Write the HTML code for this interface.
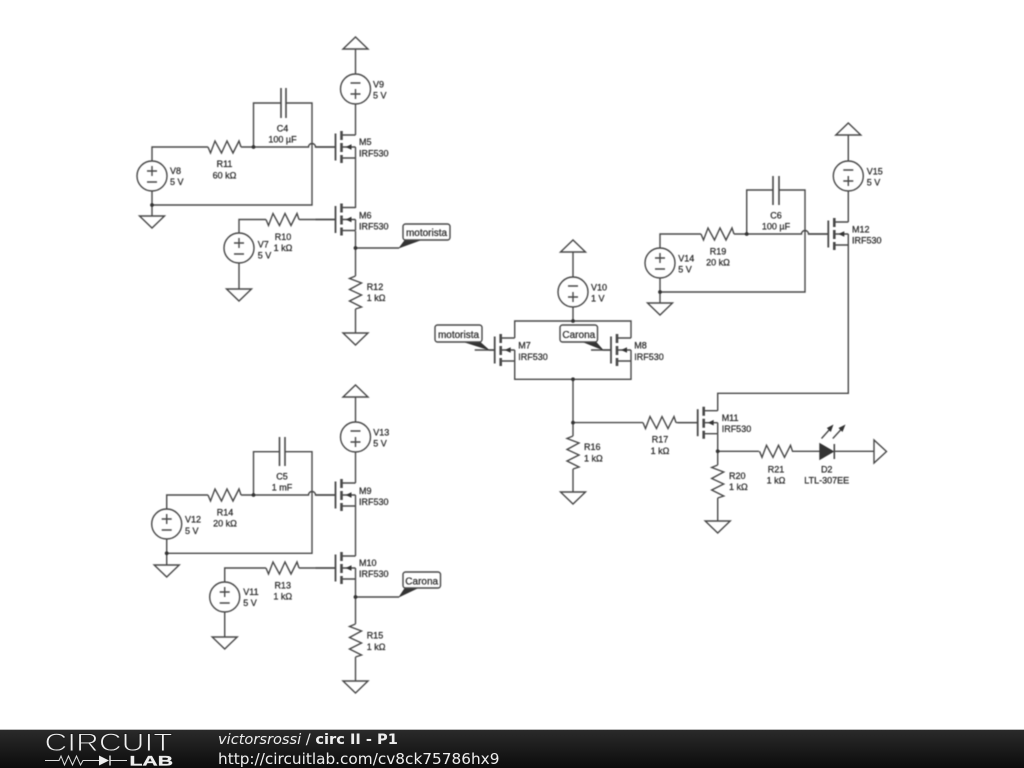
<!DOCTYPE html>
<html><head><meta charset="utf-8"><title>circ II - P1</title>
<style>
html,body{margin:0;padding:0;background:#fff;width:1024px;height:768px;overflow:hidden}
svg{display:block;position:absolute;left:0;top:0}
#c{filter:blur(0.4px)}
#c text{font-family:"Liberation Sans",sans-serif;font-size:9px;fill:#333;stroke:#333;stroke-width:.3}
#c text.l{font-size:10px}
.m{text-anchor:middle}
</style></head><body>
<svg id="c" width="1024" height="768" viewBox="0 0 1024 768" xmlns="http://www.w3.org/2000/svg">
<defs>
<g id="mos"><path d="M-20 0H-40"/>
<path d="M-20-13.5V13.5" stroke-width="1.8"/>
<path d="M-14-16V-7M-14-4V5M-14 8V16" stroke-width="2.6"/>
<path d="M-14-12H0M-14 11H0M0 0H-14M0 0V11"/>
<path d="M-10 0L-4-2.8V2.8Z" fill="#333" stroke="none"/></g>
<path id="rh" d="M0 0L2.5 6L7 -6L13.5 6L19 -6L25 6L31 -6L33 0"/>
<path id="rv" d="M0 0L-6 2.5L6 7L-6 13.5L6 19L-6 25L6 31L0 33"/>
<path id="gnd" d="M-12.5 0H12.5L0 12Z"/>
<path id="up" d="M-12.5 0H12.5L0 -12Z"/>
<g id="vp"><circle r="15"/><path d="M-5-5H5M0-10V0M-5 6H5"/></g>
<g id="vm"><circle r="15"/><path d="M-5 5H5M0 10V0M-5-6H5"/></g>
<circle id="j" r="1.9" fill="#333" stroke="none"/>
</defs>
<g id="w" fill="none" stroke="#484848" stroke-width="1.4">
<!-- group 1 -->
<path d="M355.5 49V74M355.5 104V135M355.5 158V208M355.5 231V276M355.5 309V333"/>
<path d="M152 161V147H208M241 147H308.5A3.5 3.5 0 0 1 315.5 147H335M253.5 147V103H281M286 103H312V205H152M152 191V216"/>
<path d="M281 88V118M286 88V118" stroke-width="1.6"/>
<path d="M239 233V219.5H266M299 219.5H335M239 263V289M355.5 248H399"/>
<!-- group 2 -->
<path d="M355.5 397V422M355.5 452V483M355.5 506V556M355.5 579V624M355.5 657V681"/>
<path d="M166.7 509V495H208M241 495H308.5A3.5 3.5 0 0 1 315.5 495H335M253.5 495V451.7H279.5M285 451.7H312V553.3H166.7M166.7 539V565"/>
<path d="M279.5 437V466M285 437V466" stroke-width="1.6"/>
<path d="M224.7 582V568H266M299 568H335M224.7 612V637M355.5 597H399"/>
<!-- centre -->
<path d="M573 252V277M573 307V321M514.7 338V321H631V338M514.7 361V379.3H631V361M573 379.3V436M573 469V492M573 422.6H643M676 422.6H698"/>
<!-- right -->
<path d="M848.3 135V161M848.3 191V222M848.3 245V393.3H717.7V410.7"/>
<path d="M660 248V234H701M734 234H801.5A3.5 3.5 0 0 1 808.5 234H828M746.7 234V190H773M779 190H805V292H660M660 278V303"/>
<path d="M773 176V205M779 176V205" stroke-width="1.6"/>
<path d="M717.7 433.7V465M717.7 498V521M717.7 451.3H759M792 451.3H820M834 451.3H874"/>
<!-- symbols -->
<use href="#up" x="355.5" y="49"/><use href="#vm" x="355.5" y="89"/>
<use href="#vp" x="152" y="176"/><use href="#gnd" x="152" y="216"/>
<use href="#vp" x="239" y="248"/><use href="#gnd" x="239" y="289"/>
<use href="#rh" x="208" y="147"/><use href="#rh" x="266" y="219.5"/>
<use href="#rv" x="355.5" y="276"/><use href="#gnd" x="355.5" y="333"/>
<use href="#up" x="355.5" y="397"/><use href="#vm" x="355.5" y="437"/>
<use href="#vp" x="166.7" y="524"/><use href="#gnd" x="166.7" y="565"/>
<use href="#vp" x="224.7" y="597"/><use href="#gnd" x="224.7" y="637"/>
<use href="#rh" x="208" y="495"/><use href="#rh" x="266" y="568"/>
<use href="#rv" x="355.5" y="624"/><use href="#gnd" x="355.5" y="681"/>
<use href="#up" x="573" y="252"/><use href="#vm" x="573" y="292"/>
<use href="#rv" x="573" y="436"/><use href="#gnd" x="573" y="492"/>
<use href="#rh" x="643" y="422.6"/>
<use href="#up" x="848.3" y="135"/><use href="#vm" x="848.3" y="176"/>
<use href="#vp" x="660" y="263"/><use href="#gnd" x="660" y="303"/>
<use href="#rh" x="701" y="234"/>
<use href="#rv" x="717.7" y="465"/><use href="#gnd" x="717.7" y="521"/>
<use href="#rh" x="759.5" y="451.3"/>
<use href="#mos" x="355.5" y="147"/><use href="#mos" x="355.5" y="219.5"/>
<use href="#mos" x="355.5" y="495"/><use href="#mos" x="355.5" y="568"/>
<use href="#mos" x="514.7" y="350"/><use href="#mos" x="631" y="350"/>
<use href="#mos" x="848.3" y="234"/><use href="#mos" x="717.7" y="422.7"/>
<!-- LED -->
<path d="M820 444V459L833 451.5Z" fill="#333" stroke="#333"/>
<path d="M834.3 444V459" stroke-width="1.6"/>
<path d="M874 440V463L886.5 451.5Z" fill="#fff"/>
<path d="M821.5 438.5L830 429M832.8 438.5L841.5 429"/>
<path d="M833.5 424.5L826.8 428L830.8 432ZM845.5 424.5L838.5 428L842.5 432Z" fill="#333" stroke="none"/>
<!-- labels tail -->
<path d="M399 248L405 240H421Z" fill="#333" stroke="#333" stroke-width=".6"/>
<path d="M399 597L405 588H418Z" fill="#333" stroke="#333" stroke-width=".6"/>
<path d="M464 342H480L489 350Z" fill="#333" stroke="#333" stroke-width=".6"/>
<path d="M583 342H596L603 350Z" fill="#333" stroke="#333" stroke-width=".6"/>
<path d="M489 350H495M603 350H611"/>
<rect x="403" y="224" width="47" height="16" rx="2.5" fill="#fff"/>
<rect x="403" y="572" width="37.5" height="16" rx="2.5" fill="#fff"/>
<rect x="435" y="325" width="47" height="17" rx="2.5" fill="#fff"/>
<rect x="560" y="325" width="37.5" height="17" rx="2.5" fill="#fff"/>
<use href="#j" x="253.5" y="147"/><use href="#j" x="152" y="205"/><use href="#j" x="355.5" y="248"/>
<use href="#j" x="253.5" y="495"/><use href="#j" x="166.7" y="553.3"/><use href="#j" x="355.5" y="597"/>
<use href="#j" x="573" y="321"/><use href="#j" x="573" y="379.3"/><use href="#j" x="573" y="422.6"/>
<use href="#j" x="746.7" y="234"/><use href="#j" x="660" y="292"/><use href="#j" x="717.7" y="451.3"/>
</g>
<g>
<text x="373" y="87.5">V9</text><text x="373" y="98.5">5 V</text>
<text x="359" y="145">M5</text><text x="359" y="156.5">IRF530</text>
<text x="359" y="218.5">M6</text><text x="359" y="229.5">IRF530</text>
<text x="170" y="174">V8</text><text x="170" y="185">5 V</text>
<text class="m" x="224.5" y="167">R11</text><text class="m" x="224.5" y="178.5">60 kΩ</text>
<text class="m" x="282.5" y="131.7">C4</text><text class="m" x="282.5" y="142.7">100 µF</text>
<text class="m" x="283" y="240">R10</text><text class="m" x="283" y="251">1 kΩ</text>
<text x="257.7" y="247.5">V7</text><text x="257.7" y="258.5">5 V</text>
<text x="366.7" y="290">R12</text><text x="366.7" y="301">1 kΩ</text>
<text class="m l" x="426.5" y="236">motorista</text>

<text x="373.3" y="435.7">V13</text><text x="373.3" y="446.7">5 V</text>
<text x="359" y="494">M9</text><text x="359" y="505">IRF530</text>
<text x="359" y="566">M10</text><text x="359" y="577">IRF530</text>
<text class="m" x="282" y="479.5">C5</text><text class="m" x="282" y="490.7">1 mF</text>
<text class="m" x="225" y="515.5">R14</text><text class="m" x="225" y="526.7">20 kΩ</text>
<text x="185" y="522.7">V12</text><text x="185" y="534">5 V</text>
<text class="m" x="282.7" y="588.5">R13</text><text class="m" x="282.7" y="599.5">1 kΩ</text>
<text x="243.3" y="595">V11</text><text x="243.3" y="606">5 V</text>
<text x="366.7" y="638.5">R15</text><text x="366.7" y="650">1 kΩ</text>
<text class="m l" x="421.7" y="584.5">Carona</text>

<text x="591" y="290.7">V10</text><text x="591" y="301.7">1 V</text>
<text x="518.3" y="348.5">M7</text><text x="518.3" y="360">IRF530</text>
<text x="634.3" y="348.5">M8</text><text x="634.3" y="360">IRF530</text>
<text x="584" y="450">R16</text><text x="584" y="461.7">1 kΩ</text>
<text class="m" x="660" y="442.7">R17</text><text class="m" x="660" y="454">1 kΩ</text>
<text class="m l" x="458.5" y="338">motorista</text>
<text class="m l" x="578.8" y="338">Carona</text>

<text x="721.7" y="421">M11</text><text x="721.7" y="432">IRF530</text>
<text class="m" x="776" y="472.5">R21</text><text class="m" x="776" y="483.5">1 kΩ</text>
<text class="m" x="826.7" y="472.5">D2</text><text class="m" x="826.7" y="483.5">LTL-307EE</text>
<text x="729" y="479">R20</text><text x="729" y="490">1 kΩ</text>
<text x="866.7" y="174.5">V15</text><text x="866.7" y="185.7">5 V</text>
<text x="852" y="232.5">M12</text><text x="852" y="243.7">IRF530</text>
<text class="m" x="776" y="218.5">C6</text><text class="m" x="776" y="229.7">100 µF</text>
<text class="m" x="718" y="254.5">R19</text><text class="m" x="718" y="265.7">20 kΩ</text>
<text x="678.3" y="261.7">V14</text><text x="678.3" y="272.7">5 V</text>
</g>
</svg>
<svg width="1024" height="768" viewBox="0 0 1024 768" xmlns="http://www.w3.org/2000/svg">
<defs><linearGradient id="bar" x1="0" y1="0" x2="0" y2="1"><stop offset="0" stop-color="#2a2a2a"/><stop offset="1" stop-color="#0c0c0c"/></linearGradient></defs>
<rect x="0" y="729" width="1024" height="1" fill="#bbb"/>
<rect x="0" y="730" width="1024" height="38" fill="url(#bar)"/>
<text x="44.5" y="751" font-family="Liberation Sans, sans-serif" font-size="25" textLength="128" lengthAdjust="spacingAndGlyphs" fill="#f0f0f0" stroke="#1e1e1e" stroke-width=".9">CIRCUIT</text>
<text x="129.5" y="765.5" font-family="Liberation Sans, sans-serif" font-weight="bold" font-size="13.5" textLength="43.5" lengthAdjust="spacingAndGlyphs" fill="#eee" stroke="#eee" stroke-width=".3">LAB</text>
<path d="M45 760.5H59L61 756L64.5 765L68.5 756L72.5 765L76.5 756L80.5 765L83 760.5H99M110 760.5H127" fill="none" stroke="#ddd" stroke-width="1"/>
<path d="M99 755.5V765.5L109 760.5Z" fill="#eee"/><path d="M110 755.5V765.5" stroke="#eee" stroke-width="1.4"/>
<text x="218" y="744" font-family="DejaVu Sans, sans-serif" font-size="14.6" fill="#eee"><tspan font-style="italic">victorsrossi</tspan> / <tspan font-weight="bold">circ II - P1</tspan></text>
<text x="218" y="764" font-family="DejaVu Sans, sans-serif" font-size="15.3" fill="#eee">http://circuitlab.com/cv8ck75786hx9</text>
</svg>
</body></html>
